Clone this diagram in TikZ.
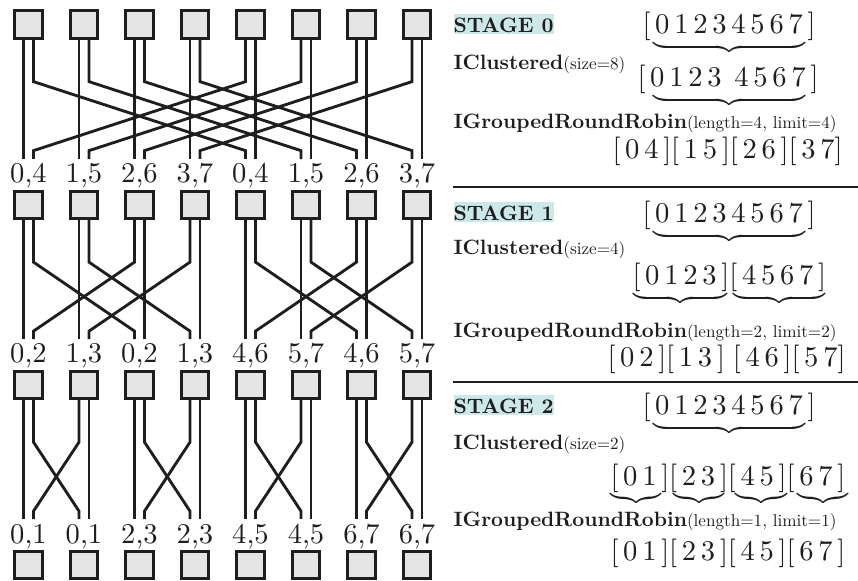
\documentclass[tikz,border=0pt]{standalone}
\usepackage{tikz}
\usetikzlibrary{calc}
\definecolor{boxgray}{RGB}{229,229,229}
\definecolor{stagebg}{RGB}{205,232,232}
\definecolor{ink}{RGB}{30,30,30}
\newcommand{\sname}[1]{\scalebox{0.73}{\bfseries #1}}
\newcommand{\bname}[1]{\scalebox{0.726}{\bfseries #1}}
\newcommand{\bargs}[1]{\scalebox{0.6}{#1}}
\newcommand{\ubrace}[1]{\scalebox{1}[0.65]{$\underbrace{\hbox to #1{}}$}}

\begin{document}
\begin{tikzpicture}[x=0.35pt, y=-0.35pt,
  unit/.style={rectangle, draw=ink, fill=boxgray, line width=1pt, minimum size=9.6pt, inner sep=0pt},
  lbl/.style={anchor=base, inner xsep=0pt, inner ysep=1.5pt, text=ink},
  wirepen/.style={draw=ink, line width=1pt},
  wire/.style={to path={-- ++(0,42) -- ++(#1,69) -- (\tikztotarget)}},
  stage/.style={anchor=base west, fill=stagebg, inner sep=0pt, text height=6.65pt, text depth=0.35pt, text=ink},
  title/.style={anchor=base west, inner sep=0pt, text=ink},
  seq/.style={anchor=base west, inner sep=0pt, text=ink},
  brc/.style={anchor=north, inner sep=0pt, text=ink},
  rule/.style={draw=ink, line width=1pt}]
  \useasboundingbox (0,0) rectangle (858,581);

  \node (a0) [unit] at (28.5,24.5) {};
  \node (a1) [unit] at (84,24.5) {};
  \node (a2) [unit] at (139.5,24.5) {};
  \node (a3) [unit] at (195,24.5) {};
  \node (a4) [unit] at (250.5,24.5) {};
  \node (a5) [unit] at (306,24.5) {};
  \node (a6) [unit] at (361.5,24.5) {};
  \node (a7) [unit] at (417,24.5) {};

  \node (la0) [lbl] at (28.5,183) {0,4};
  \node (la1) [lbl] at (84,183) {1,5};
  \node (la2) [lbl] at (139.5,183) {2,6};
  \node (la3) [lbl] at (195,183) {3,7};
  \node (la4) [lbl] at (250.5,183) {0,4};
  \node (la5) [lbl] at (306,183) {1,5};
  \node (la6) [lbl] at (361.5,183) {2,6};
  \node (la7) [lbl] at (417,183) {3,7};

  \node (b0) [unit] at (28.5,205) {};
  \node (b1) [unit] at (84,205) {};
  \node (b2) [unit] at (139.5,205) {};
  \node (b3) [unit] at (195,205) {};
  \node (b4) [unit] at (250.5,205) {};
  \node (b5) [unit] at (306,205) {};
  \node (b6) [unit] at (361.5,205) {};
  \node (b7) [unit] at (417,205) {};

  \node (lb0) [lbl] at (28.5,363) {0,2};
  \node (lb1) [lbl] at (84,363) {1,3};
  \node (lb2) [lbl] at (139.5,363) {0,2};
  \node (lb3) [lbl] at (195,363) {1,3};
  \node (lb4) [lbl] at (250.5,363) {4,6};
  \node (lb5) [lbl] at (306,363) {5,7};
  \node (lb6) [lbl] at (361.5,363) {4,6};
  \node (lb7) [lbl] at (417,363) {5,7};

  \node (c0) [unit] at (28.5,385) {};
  \node (c1) [unit] at (84,385) {};
  \node (c2) [unit] at (139.5,385) {};
  \node (c3) [unit] at (195,385) {};
  \node (c4) [unit] at (250.5,385) {};
  \node (c5) [unit] at (306,385) {};
  \node (c6) [unit] at (361.5,385) {};
  \node (c7) [unit] at (417,385) {};

  \node (lc0) [lbl] at (28.5,543) {0,1};
  \node (lc1) [lbl] at (84,543) {0,1};
  \node (lc2) [lbl] at (139.5,543) {2,3};
  \node (lc3) [lbl] at (195,543) {2,3};
  \node (lc4) [lbl] at (250.5,543) {4,5};
  \node (lc5) [lbl] at (306,543) {4,5};
  \node (lc6) [lbl] at (361.5,543) {6,7};
  \node (lc7) [lbl] at (417,543) {6,7};

  \node (d0) [unit] at (28.5,565) {};
  \node (d1) [unit] at (84,565) {};
  \node (d2) [unit] at (139.5,565) {};
  \node (d3) [unit] at (195,565) {};
  \node (d4) [unit] at (250.5,565) {};
  \node (d5) [unit] at (306,565) {};
  \node (d6) [unit] at (361.5,565) {};
  \node (d7) [unit] at (417,565) {};

  \path [wirepen]
  ($(a0.south)+(-5,0)$) edge ($(la0.north)+(-5,0)$)
  ($(a0.south)+(5,0)$) edge[wire=212] ($(la4.north)+(-5,0)$)
  ($(a1.south)+(-5,0)$) edge ($(la1.north)+(-5,0)$)
  ($(a1.south)+(5,0)$) edge[wire=212] ($(la5.north)+(-5,0)$)
  ($(a2.south)+(-5,0)$) edge ($(la2.north)+(-5,0)$)
  ($(a2.south)+(5,0)$) edge[wire=212] ($(la6.north)+(-5,0)$)
  ($(a3.south)+(-5,0)$) edge ($(la3.north)+(-5,0)$)
  ($(a3.south)+(5,0)$) edge[wire=212] ($(la7.north)+(-5,0)$)
  ($(a4.south)+(-5,0)$) edge[wire=-212] ($(la0.north)+(5,0)$)
  ($(a4.south)+(5,0)$) edge ($(la4.north)+(5,0)$)
  ($(a5.south)+(-5,0)$) edge[wire=-212] ($(la1.north)+(5,0)$)
  ($(a5.south)+(5,0)$) edge ($(la5.north)+(5,0)$)
  ($(a6.south)+(-5,0)$) edge[wire=-212] ($(la2.north)+(5,0)$)
  ($(a6.south)+(5,0)$) edge ($(la6.north)+(5,0)$)
  ($(a7.south)+(-5,0)$) edge[wire=-212] ($(la3.north)+(5,0)$)
  ($(a7.south)+(5,0)$) edge ($(la7.north)+(5,0)$);

  \path [wirepen]
  ($(b0.south)+(-5,0)$) edge ($(lb0.north)+(-5,0)$)
  ($(b0.south)+(5,0)$) edge[wire=101] ($(lb2.north)+(-5,0)$)
  ($(b1.south)+(-5,0)$) edge ($(lb1.north)+(-5,0)$)
  ($(b1.south)+(5,0)$) edge[wire=101] ($(lb3.north)+(-5,0)$)
  ($(b2.south)+(-5,0)$) edge[wire=-101] ($(lb0.north)+(5,0)$)
  ($(b2.south)+(5,0)$) edge ($(lb2.north)+(5,0)$)
  ($(b3.south)+(-5,0)$) edge[wire=-101] ($(lb1.north)+(5,0)$)
  ($(b3.south)+(5,0)$) edge ($(lb3.north)+(5,0)$)
  ($(b4.south)+(-5,0)$) edge ($(lb4.north)+(-5,0)$)
  ($(b4.south)+(5,0)$) edge[wire=101] ($(lb6.north)+(-5,0)$)
  ($(b5.south)+(-5,0)$) edge ($(lb5.north)+(-5,0)$)
  ($(b5.south)+(5,0)$) edge[wire=101] ($(lb7.north)+(-5,0)$)
  ($(b6.south)+(-5,0)$) edge[wire=-101] ($(lb4.north)+(5,0)$)
  ($(b6.south)+(5,0)$) edge ($(lb6.north)+(5,0)$)
  ($(b7.south)+(-5,0)$) edge[wire=-101] ($(lb5.north)+(5,0)$)
  ($(b7.south)+(5,0)$) edge ($(lb7.north)+(5,0)$);

  \path [wirepen]
  ($(c0.south)+(-5,0)$) edge ($(lc0.north)+(-5,0)$)
  ($(c0.south)+(5,0)$) edge[wire=45.5] ($(lc1.north)+(-5,0)$)
  ($(c1.south)+(-5,0)$) edge[wire=-45.5] ($(lc0.north)+(5,0)$)
  ($(c1.south)+(5,0)$) edge ($(lc1.north)+(5,0)$)
  ($(c2.south)+(-5,0)$) edge ($(lc2.north)+(-5,0)$)
  ($(c2.south)+(5,0)$) edge[wire=45.5] ($(lc3.north)+(-5,0)$)
  ($(c3.south)+(-5,0)$) edge[wire=-45.5] ($(lc2.north)+(5,0)$)
  ($(c3.south)+(5,0)$) edge ($(lc3.north)+(5,0)$)
  ($(c4.south)+(-5,0)$) edge ($(lc4.north)+(-5,0)$)
  ($(c4.south)+(5,0)$) edge[wire=45.5] ($(lc5.north)+(-5,0)$)
  ($(c5.south)+(-5,0)$) edge[wire=-45.5] ($(lc4.north)+(5,0)$)
  ($(c5.south)+(5,0)$) edge ($(lc5.north)+(5,0)$)
  ($(c6.south)+(-5,0)$) edge ($(lc6.north)+(-5,0)$)
  ($(c6.south)+(5,0)$) edge[wire=45.5] ($(lc7.north)+(-5,0)$)
  ($(c7.south)+(-5,0)$) edge[wire=-45.5] ($(lc6.north)+(5,0)$)
  ($(c7.south)+(5,0)$) edge ($(lc7.north)+(5,0)$);

  \node (st0) [stage] at (453,33) {\sname{STAGE 0}\hspace{2pt}};
  \node (s0r1) [seq] at (642,34) {$[\,0\,1\,2\,3\,4\,5\,6\,7\,]$};
  \node (s0b1) [brc] at (729,40) {\ubrace{53.2pt}};
  \node (s0c) [title] at (453,70) {\bname{IClustered}\bargs{(size=8)}};
  \node (s0r2) [seq] at (637,87) {$[\,0\,1\,2\,3\,\;4\,5\,6\,7\,]$};
  \node (s0b2) [brc] at (729,93) {\ubrace{53.2pt}};
  \node (s0g) [title] at (453,129) {\bname{IGroupedRoundRobin}\bargs{(length=4, limit=4)}};
  \node (s0r3) [seq] at (612,159) {$[\,0\,4\,][\,1\,5\,][\,2\,6\,][\,3\,7]$};
  \draw [rule] (453,187) -- (858,187);

  \node (st1) [stage] at (453,221) {\sname{STAGE 1}\hspace{2pt}};
  \node (s1r1) [seq] at (642,223) {$[\,0\,1\,2\,3\,4\,5\,6\,7\,]$};
  \node (s1b1) [brc] at (729,229) {\ubrace{53.2pt}};
  \node (s1c) [title] at (453,255) {\bname{IClustered}\bargs{(size=4)}};
  \node (s1r2) [seq] at (632,285) {$[\,0\,1\,2\,3\,][\,4\,5\,6\,7\,]$};
  \node (s1b2) [brc] at (680,291) {\ubrace{32.9pt}};
  \node (s1b3) [brc] at (779,291) {\ubrace{32.2pt}};
  \node (s1g) [title] at (453,338) {\bname{IGroupedRoundRobin}\bargs{(length=2, limit=2)}};
  \node (s1r3) [seq] at (607,367) {$[\,0\,2\,][\,1\,3\,]\;[\,4\,6\,][\,5\,7]$};
  \draw [rule] (453,382) -- (858,382);

  \node (st2) [stage] at (453,414) {\sname{STAGE 2}\hspace{2pt}};
  \node (s2r1) [seq] at (642,415) {$[\,0\,1\,2\,3\,4\,5\,6\,7\,]$};
  \node (s2b1) [brc] at (729,421) {\ubrace{53.2pt}};
  \node (s2c) [title] at (453,450) {\bname{IClustered}\bargs{(size=2)}};
  \node (s2r2) [seq] at (610,485) {$[\,0\,1\,][\,2\,3\,][\,4\,5\,][\,6\,7\,]$};
  \node (s2b2) [brc] at (636,491) {\ubrace{17.5pt}};
  \node (s2b3) [brc] at (699,491) {\ubrace{16.8pt}};
  \node (s2b4) [brc] at (761.5,491) {\ubrace{17.2pt}};
  \node (s2b5) [brc] at (823,491) {\ubrace{16.8pt}};
  \node (s2g) [title] at (453,527) {\bname{IGroupedRoundRobin}\bargs{(length=1, limit=1)}};
  \node (s2r3) [seq] at (610,560) {$[\,0\,1\,][\,2\,3\,][\,4\,5\,][\,6\,7\,]$};
\end{tikzpicture}
\end{document}
